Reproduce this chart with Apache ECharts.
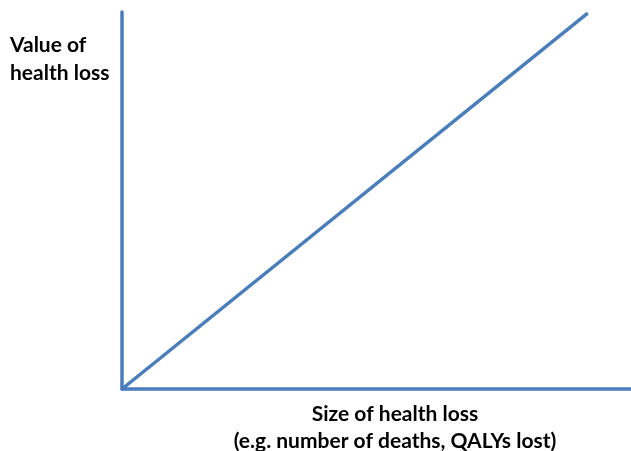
<!DOCTYPE html>
<html><head><meta charset="utf-8">
<script src="https://cdn.jsdelivr.net/npm/echarts@6/dist/echarts.min.js"></script>
<style>html,body{margin:0;padding:0;background:#fff}#c{width:631px;height:451px}</style>
</head><body><div id="c"></div>
<script>
const xValues = [0, 91.5];
const yValues = [0, 99.7];
const yTitle = ['Value of', 'health loss'];
const xTitle = ['Size of health loss', '(e.g. number of deaths, QALYs lost)'];
const blue = '#4a7ebb';
const font = 'Lato, "Open Sans", sans-serif';
const chart = echarts.init(document.getElementById('c'), null, {renderer: 'canvas'});
chart.setOption({
  animation: false,
  grid: {left: 122, right: 0, top: 12, bottom: 62},
  xAxis: {type: 'value', min: 0, max: 100, axisLine: {show: true, onZero: false, lineStyle: {color: blue, width: 3.5}},
    axisTick: {show: false}, axisLabel: {show: false}, splitLine: {show: false}},
  yAxis: {type: 'value', min: 0, max: 100, axisLine: {show: true, onZero: false, lineStyle: {color: blue, width: 3.5}},
    axisTick: {show: false}, axisLabel: {show: false}, splitLine: {show: false}},
  series: [{type: 'line', data: xValues.map((x, i) => [x, yValues[i]]), symbol: 'none',
    lineStyle: {color: blue, width: 3.5}}],
  graphic: [
    {type: 'text', x: 10, y: 31, style: {text: yTitle.join('\n'), font: 'bold 21px ' + font, fill: '#000', lineHeight: 28, verticalAlign: 'top'}},
    {type: 'text', x: 395, y: 401, style: {text: xTitle.join('\n'), font: 'bold 21px ' + font, fill: '#000', lineHeight: 27, align: 'center', verticalAlign: 'top'}}
  ]
});
</script></body></html>
